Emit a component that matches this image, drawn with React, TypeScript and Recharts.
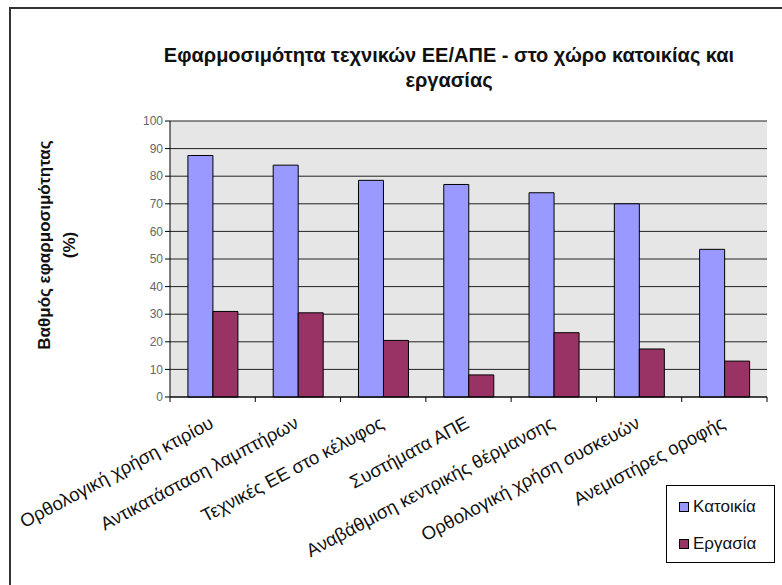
import { BarChart, Bar, XAxis, YAxis, CartesianGrid } from 'recharts';

const categories = [
  'Ορθολογική χρήση κτιρίου',
  'Αντικατάσταση λαμπτήρων',
  'Τεχνικές ΕΕ στο κέλυφος',
  'Συστήματα ΑΠΕ',
  'Αναβάθμιση κεντρικής θέρμανσης',
  'Ορθολογική χρήση συσκευών',
  'Ανεμιστήρες οροφής',
];
const katoikia = [87.5, 84, 78.5, 77, 74, 70, 53.5];
const ergasia = [31, 30.5, 20.5, 8, 23.3, 17.4, 13];
const yTicks = [0, 10, 20, 30, 40, 50, 60, 70, 80, 90, 100];

const series = [
  { key: 'Κατοικία', color: '#9999ff' },
  { key: 'Εργασία', color: '#993366' },
];

const data = categories.map((name, i) => ({
  name,
  Κατοικία: katoikia[i],
  Εργασία: ergasia[i],
}));

const font = '"Liberation Sans", Arial, sans-serif';

function CategoryTick(props: any) {
  const { x, y, payload, index, visibleTicksCount } = props;
  const half = payload.offset || 42.6;
  const axisY = y - 8;
  return (
    <g>
      <line x1={x - half} y1={axisY} x2={x - half} y2={axisY + 5} stroke="#000" />
      {index === visibleTicksCount - 1 && (
        <line x1={x + half} y1={axisY} x2={x + half} y2={axisY + 5} stroke="#000" />
      )}
      <text
        x={x + 2}
        y={axisY + 30}
        textAnchor="end"
        fontSize={18.5}
        fontFamily={font}
        fill="#111"
        transform={`rotate(-28, ${x + 2}, ${axisY + 30})`}
      >
        {payload.value}
      </text>
    </g>
  );
}

export default function App() {
  return (
    <div
      style={{
        position: 'absolute',
        left: 0,
        top: 0,
        width: 782,
        height: 585,
        overflow: 'hidden',
        background: '#fff',
        fontFamily: font,
      }}
    >
      <div
        style={{
          position: 'absolute',
          left: 9,
          top: 7,
          width: 900,
          height: 700,
          borderLeft: '2px solid #333',
          borderTop: '2px solid #333',
        }}
      />
      <div
        style={{
          position: 'absolute',
          left: 99,
          top: 43,
          width: 700,
          textAlign: 'center',
          fontWeight: 'bold',
          fontSize: 20,
          lineHeight: '25px',
          color: '#111',
        }}
      >
        Εφαρμοσιμότητα τεχνικών ΕΕ/ΑΠΕ - στο χώρο κατοικίας και
        <br />
        εργασίας
      </div>
      <div
        style={{
          position: 'absolute',
          left: 57 - 140,
          top: 245 - 25,
          width: 280,
          height: 50,
          textAlign: 'center',
          fontWeight: 'bold',
          fontSize: 17,
          lineHeight: '25px',
          color: '#111',
          transform: 'rotate(-90deg)',
        }}
      >
        Βαθμός εφαρμοσιμότητας
        <br />
        (%)
      </div>
      <div
        style={{
          position: 'absolute',
          left: 666,
          top: 485,
          width: 109,
          height: 78,
          boxSizing: 'border-box',
          border: '1px solid #000',
          background: '#fff',
          padding: '2px 0 0 12px',
          fontSize: 17,
          zIndex: 2,
        }}
      >
        {series.map((s) => (
          <div key={s.key} style={{ display: 'flex', alignItems: 'center', height: 37 }}>
            <span
              style={{
                display: 'inline-block',
                width: 8,
                height: 8,
                background: s.color,
                border: '1px solid #000',
                marginRight: 4,
              }}
            />
            <span style={{ color: '#111' }}>{s.key}</span>
          </div>
        ))}
      </div>
      <BarChart
        width={782}
        height={585}
        data={data}
        margin={{ top: 121, right: 15, bottom: 128, left: 110 }}
        barCategoryGap="21%"
        barGap={0}
        style={{ position: 'absolute', left: 0, top: 0 }}
      >
        <CartesianGrid vertical={false} stroke="#222" fill="#e6e6e6" fillOpacity={1} />
        <XAxis
          dataKey="name"
          height={60}
          interval={0}
          tickLine={false}
          axisLine={{ stroke: '#000' }}
          tick={<CategoryTick />}
        />
        <YAxis
          width={60}
          domain={[0, 100]}
          ticks={yTicks}
          interval={0}
          tickSize={5}
          tickLine={{ stroke: '#000' }}
          axisLine={{ stroke: '#000' }}
          tick={{ fontSize: 12, fill: '#666', fontFamily: font }}
        />
        <YAxis
          yAxisId="right"
          orientation="right"
          width={0}
          domain={[0, 100]}
          tick={false}
          tickLine={false}
          axisLine={{ stroke: '#999' }}
        />
        {series.map((s) => (
          <Bar
            key={s.key}
            dataKey={s.key}
            fill={s.color}
            stroke="#000"
            strokeWidth={1}
            isAnimationActive={false}
          />
        ))}
      </BarChart>
    </div>
  );
}
